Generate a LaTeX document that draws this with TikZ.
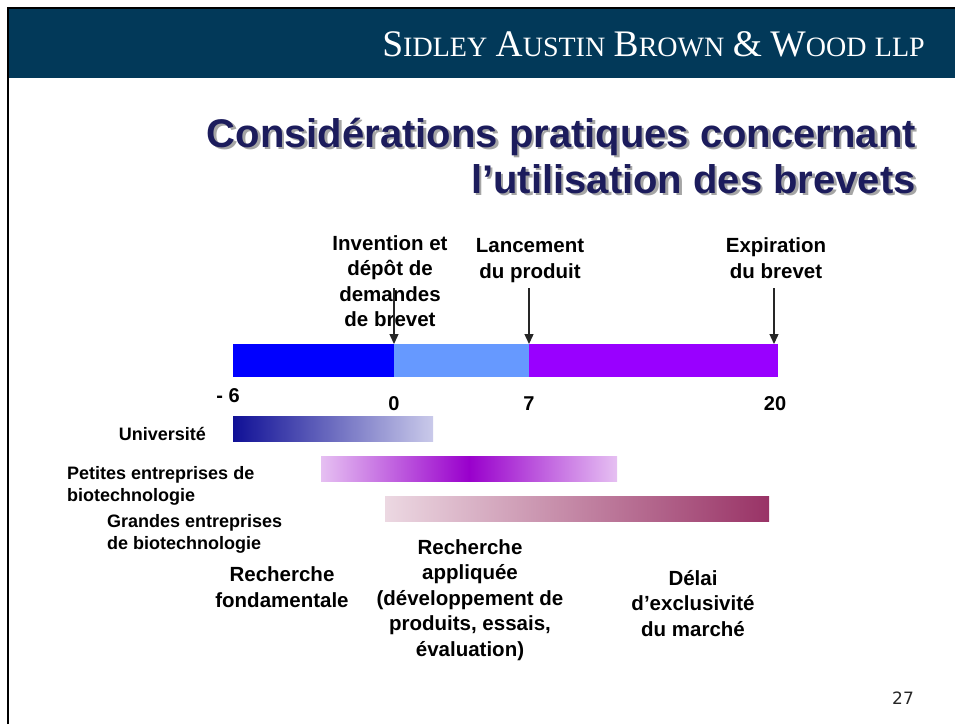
\documentclass[tikz,border=0pt]{standalone}
\usepackage{fontspec}
\setmainfont{Liberation Sans}
\newfontfamily\firmfont{Liberation Serif}
\newfontfamily\pagefont{DejaVu Sans}
\usetikzlibrary{arrows.meta}
\usetikzlibrary{positioning}

\definecolor{bandblue}{RGB}{2,57,89}
\definecolor{titlenavy}{RGB}{28,28,92}
\definecolor{titleshade}{RGB}{165,165,165}
\definecolor{preblue}{RGB}{0,0,255}
\definecolor{protblue}{RGB}{102,153,255}
\definecolor{marketviolet}{RGB}{153,0,255}
\definecolor{uniNavy}{RGB}{16,16,150}
\definecolor{uniPale}{RGB}{202,202,234}
\definecolor{smallPale}{RGB}{230,192,242}
\definecolor{smallPurple}{RGB}{153,0,204}
\definecolor{largePale}{RGB}{236,216,226}
\definecolor{largeWine}{RGB}{153,51,102}

\newcommand{\firmcap}[1]{{\fontsize{37.5}{37.5}\selectfont #1}}
\newcommand{\firmsmall}[1]{{\fontsize{28}{28}\selectfont #1}}

\begin{document}
\begin{tikzpicture}[
    x=1pt, y=-1pt,
    pile/.style={line width=1.3pt, black!85, -{Triangle[width=9pt,length=10pt]}},
    segment/.style={anchor=north west, minimum height=33pt, outer sep=0pt},
    actorbar/.style={anchor=north west, minimum height=25pt, outer sep=0pt},
    titleline/.style={anchor=base east, font=\fontsize{40}{40}\selectfont\bfseries},
    milestone/.style={anchor=base, align=center, font=\fontsize{20.5}{25.5}\selectfont\bfseries},
    tick/.style={anchor=base, font=\fontsize{20}{20}\selectfont\bfseries},
    actor/.style={anchor=base west, align=left, font=\fontsize{18}{22}\selectfont\bfseries},
    phase/.style={anchor=base, align=center, font=\fontsize{20.5}{25.5}\selectfont\bfseries},
    every node/.style={color=black, inner sep=0pt}
    ]

\useasboundingbox (0,0) rectangle (955,724);

% frame and header band
\fill[bandblue] (9,9) rectangle (955,78);
\draw[line width=2.3pt] (7.9,724) -- (7.9,7.9) -- (955,7.9);
\node[anchor=base east, text=white, font=\firmfont\fontsize{34}{34}\selectfont] (firm) at (925,56)
    {\firmcap{S}\firmsmall{IDLEY} \firmcap{A}\firmsmall{USTIN} \firmcap{B}\firmsmall{ROWN} \firmcap{\&} \firmcap{W}\firmsmall{OOD} \firmsmall{LLP}};

% title
\node[titleline, text=titleshade] (title1s) at (918.5,149.5) {Considérations pratiques concernant};
\node[titleline, text=titlenavy] (title1) at (916,147) {Considérations pratiques concernant};
\node[titleline, text=titleshade] (title2s) at (918.5,195.5) {l’utilisation des brevets};
\node[titleline, text=titlenavy] (title2) at (916,193) {l’utilisation des brevets};

% time line (base = last line)
\node[segment, fill=preblue, minimum width=161pt] (preBar) at (233,344) {};
\node[segment, fill=protblue, minimum width=135pt] (protBar) at (394,344) {};
\node[segment, fill=marketviolet, minimum width=248.5pt] (marketBar) at (529,344) {};

\node[milestone] (invention) at (390,326.5) {Invention et\\dépôt de\\demandes\\de brevet};
\node[milestone] (launch) at (530,278) {Lancement\\du produit};
\node[milestone] (expiry) at (776,278) {Expiration\\du brevet};

\coordinate (inventionStart) at (394,288);
\coordinate (launchStart) at (529,288);
\coordinate (expiryStart) at (774,288);
\draw[pile] (inventionStart) -- (protBar.north west);
\draw[pile] (launchStart) -- (marketBar.north west);
\draw[pile] (expiryStart) -- (expiryStart |- marketBar.north);

\node[tick] (tickM6) at (228,402) {- 6};
\node[tick] (tick0) at (394,410) {0};
\node[tick] (tick7) at (529,410) {7};
\node[tick] (tick20) at (775,410) {20};

% who does the research
\node[actorbar, left color=uniNavy, right color=uniPale, minimum width=200pt] (uniBar) at (233,416) {};
\node[actorbar, left color=smallPale, right color=smallPale, middle color=smallPurple, minimum width=296pt] (smallBar) at (321,456) {};
\node[actorbar, left color=largePale, right color=largeWine, minimum width=384pt] (largeBar) at (385,496) {};

\node[actor, anchor=base east] (uniLabel) at (206,440) {Université};
\node[actor] (smallLabel) at (67,501) {Petites entreprises de\\biotechnologie};
\node[actor] (largeLabel) at (107,549) {Grandes entreprises\\de biotechnologie};

% phases
\node[phase] (basicPhase) at (282,607) {Recherche\\fondamentale};
\node[phase] (appliedPhase) at (470,656) {Recherche\\appliquée\\(développement de\\produits, essais,\\évaluation)};
\node[phase] (exclusivePhase) at (693,636) {Délai\\d’exclusivité\\du marché};

\node[anchor=base, font=\pagefont\fontsize{17}{17}\selectfont, text=black!85] (pageNo) at (903,704) {27};

\end{tikzpicture}
\end{document}
